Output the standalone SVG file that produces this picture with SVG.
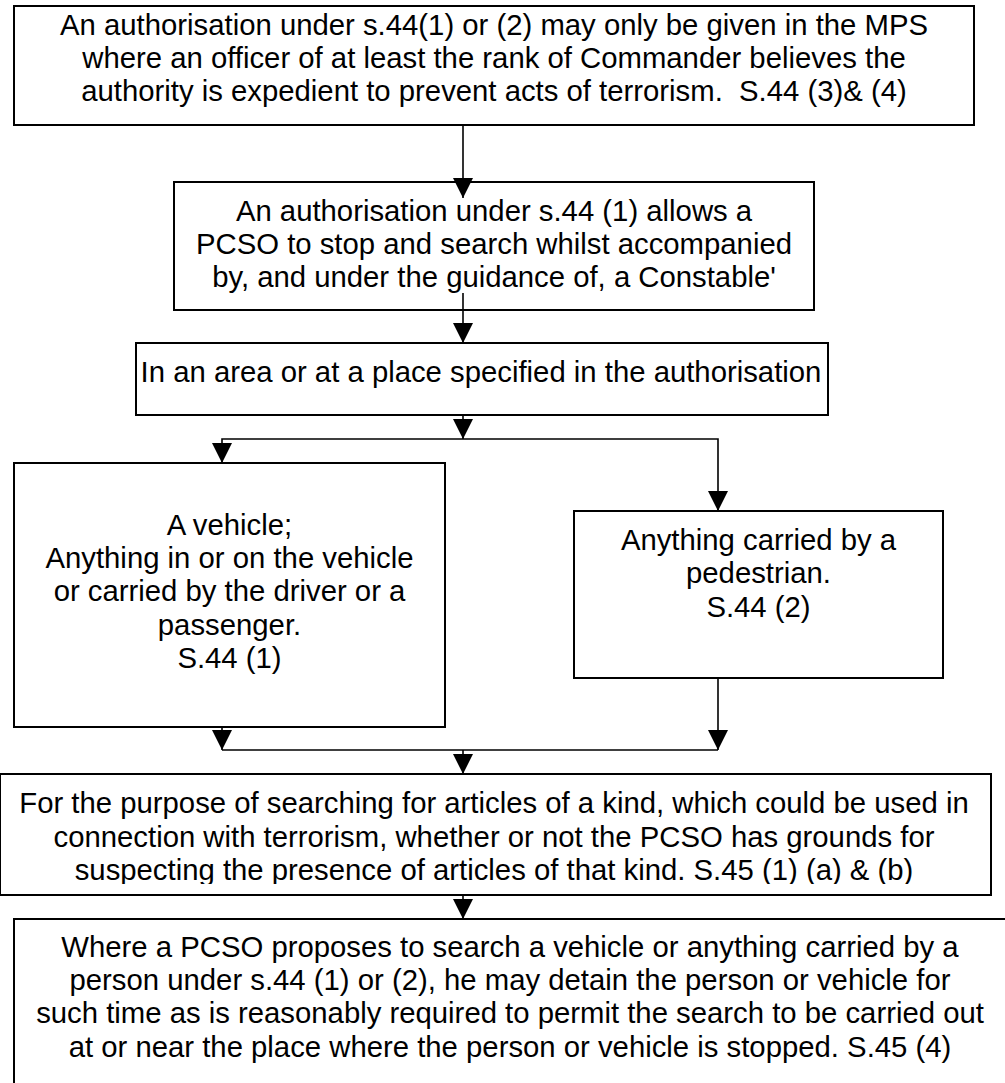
<svg xmlns="http://www.w3.org/2000/svg" width="1005" height="1083" viewBox="0 0 1005 1083">
  <style>
    .box { fill: #fff; stroke: #000; stroke-width: 2; }
    .t { font-family: "Liberation Sans", Arial, sans-serif; font-size: 29.3px; fill: #000; text-anchor: middle; white-space: pre; }
    .wire { fill: none; stroke: #000; stroke-width: 1.6; }
  </style>
  <defs>
    <!-- filled arrowhead, tip at the end of the line -->
    <marker id="head" markerUnits="userSpaceOnUse" markerWidth="20" markerHeight="21" viewBox="0 0 20 21" refX="20" refY="10" orient="auto">
      <path d="M0,0 L20,10 L0,20 Z" fill="#000"/>
    </marker>
    <!-- the last line of this box is cut just under its baseline -->
    <clipPath id="clip-purpose">
      <rect x="0" y="774" width="1005" height="110"/>
    </clipPath>
  </defs>
  <rect x="0" y="0" width="1005" height="1083" fill="#fff"/>

  <g id="node-authorisation">
    <rect class="box" x="14" y="6" width="960" height="119"/>
    <text class="t" x="494" y="35">An authorisation under s.44(1) or (2) may only be given in the MPS</text>
    <text class="t" x="494" y="68">where an officer of at least the rank of Commander believes the</text>
    <text class="t" x="494" y="101">authority is expedient to prevent acts of terrorism.  S.44 (3)&amp; (4)</text>
  </g>

  <g id="node-pcso">
    <rect class="box" x="174" y="182" width="640" height="128"/>
    <text class="t" x="494" y="221">An authorisation under s.44 (1) allows a</text>
    <text class="t" x="494" y="254">PCSO to stop and search whilst accompanied</text>
    <text class="t" x="494" y="287">by, and under the guidance of, a Constable'</text>
  </g>

  <g id="node-area">
    <rect class="box" x="136" y="343" width="692" height="72"/>
    <text class="t" x="481" y="382">In an area or at a place specified in the authorisation</text>
  </g>

  <g id="node-vehicle">
    <rect class="box" x="14" y="463" width="431" height="264"/>
    <text class="t" x="229.5" y="535">A vehicle;</text>
    <text class="t" x="229.5" y="568">Anything in or on the vehicle</text>
    <text class="t" x="229.5" y="601">or carried by the driver or a</text>
    <text class="t" x="229.5" y="635">passenger.</text>
    <text class="t" x="229.5" y="668">S.44 (1)</text>
  </g>

  <g id="node-pedestrian">
    <rect class="box" x="574" y="511" width="369" height="167"/>
    <text class="t" x="758.5" y="550">Anything carried by a</text>
    <text class="t" x="758.5" y="583">pedestrian.</text>
    <text class="t" x="758.5" y="617">S.44 (2)</text>
  </g>

  <g id="node-purpose">
    <rect class="box" x="0" y="774" width="991" height="121"/>
    <g clip-path="url(#clip-purpose)">
      <text class="t" x="494" y="813">For the purpose of searching for articles of a kind, which could be used in</text>
      <text class="t" x="494" y="847">connection with terrorism, whether or not the PCSO has grounds for</text>
      <text class="t" x="494" y="880">suspecting the presence of articles of that kind. S.45 (1) (a) &amp; (b)</text>
    </g>
  </g>

  <g id="node-detain">
    <rect class="box" x="14" y="919" width="994" height="175"/>
    <text class="t" x="510" y="957">Where a PCSO proposes to search a vehicle or anything carried by a</text>
    <text class="t" x="510" y="990">person under s.44 (1) or (2), he may detain the person or vehicle for</text>
    <text class="t" x="510" y="1023">such time as is reasonably required to permit the search to be carried out</text>
    <text class="t" x="510" y="1057">at or near the place where the person or vehicle is stopped. S.45 (4)</text>
  </g>

  <g id="connectors">
    <line class="wire" x1="463" y1="125" x2="463" y2="198" marker-end="url(#head)"/>
    <line class="wire" x1="463" y1="293" x2="463" y2="343" marker-end="url(#head)"/>
    <line class="wire" x1="463" y1="415" x2="463" y2="439" marker-end="url(#head)"/>
    <polyline class="wire" points="463,439 222,439 222,463" marker-end="url(#head)"/>
    <polyline class="wire" points="463,439 718,439 718,511" marker-end="url(#head)"/>
    <line class="wire" x1="222" y1="727" x2="222" y2="750" marker-end="url(#head)"/>
    <line class="wire" x1="718" y1="678" x2="718" y2="750" marker-end="url(#head)"/>
    <line class="wire" x1="222" y1="750" x2="718" y2="750"/>
    <line class="wire" x1="463" y1="750" x2="463" y2="774" marker-end="url(#head)"/>
    <line class="wire" x1="463" y1="895" x2="463" y2="919" marker-end="url(#head)"/>
  </g>
</svg>
